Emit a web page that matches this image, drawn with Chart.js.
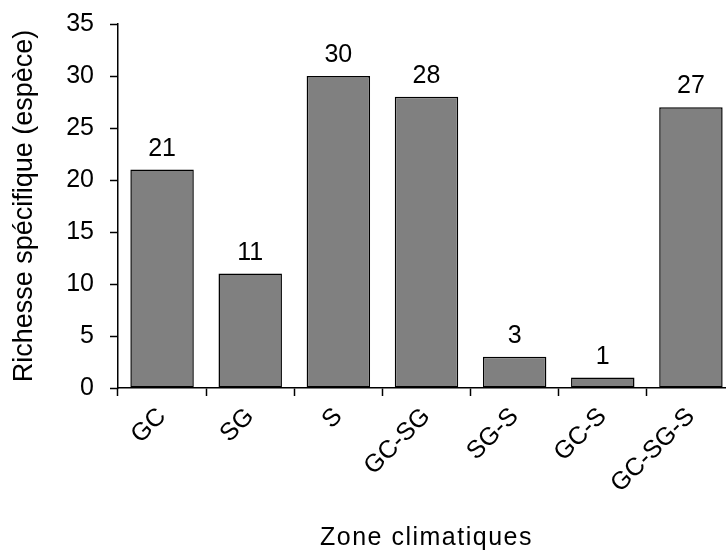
<!DOCTYPE html>
<html lang="fr">
<head>
  <meta charset="UTF-8" />
  <title>Richesse spécifique par zone climatique</title>
  <script src="https://cdn.jsdelivr.net/npm/chart.js@4"></script>
  <style>
    html, body { margin: 0; padding: 0; background: #fff; overflow: hidden; }
    #wrap { width: 736px; height: 554px; }
  </style>
</head>
<body>
  <div id="wrap"><canvas id="chart" width="736" height="554"></canvas></div>
  <script>
    // données
    const zones = ["GC", "SG", "S", "GC-SG", "SG-S", "GC-S", "GC-SG-S"];
    const richesse = [21, 11, 30, 28, 3, 1, 27];
    const yTicks = [0, 5, 10, 15, 20, 25, 30, 35];
    const xTitle = "Zone climatiques";

    const FONT = "'Liberation Sans', Arial, sans-serif";

    // étiquettes de valeur au-dessus des barres + titre de l'axe X (un peu espacé)
    const valueLabels = {
      id: "valueLabels",
      afterDatasetsDraw(chart) {
        const ctx = chart.ctx;
        const meta = chart.getDatasetMeta(0);
        ctx.save();
        ctx.font = "25px " + FONT;
        ctx.fillStyle = "#000";
        ctx.textAlign = "center";
        ctx.textBaseline = "alphabetic";
        meta.data.forEach((bar, i) => {
          ctx.fillText(String(richesse[i]), bar.x, bar.y - 14);
        });
        ctx.restore();
      },
      afterDraw(chart) {
        const ctx = chart.ctx;
        const area = chart.chartArea;
        ctx.save();
        ctx.font = "25px " + FONT;
        ctx.letterSpacing = "1.5px";
        ctx.fillStyle = "#000";
        ctx.textAlign = "center";
        ctx.textBaseline = "alphabetic";
        ctx.fillText(xTitle, (area.left + area.right) / 2, 545);
        ctx.restore();
      },
    };

    new Chart(document.getElementById("chart"), {
      type: "bar",
      data: {
        labels: zones,
        datasets: [
          {
            data: richesse,
            backgroundColor: "#808080",
            borderColor: "#000",
            borderWidth: 1.5,
            borderSkipped: false,
            barPercentage: 0.72,
            categoryPercentage: 1,
          },
        ],
      },
      options: {
        responsive: false,
        animation: false,
        devicePixelRatio: 1,
        layout: { padding: { top: 24, right: 1, bottom: 0, left: 0 } },
        plugins: {
          legend: { display: false },
          tooltip: { enabled: false },
        },
        scales: {
          x: {
            grid: {
              drawOnChartArea: false,
              drawTicks: true,
              tickLength: 8,
              tickColor: "#000",
              tickWidth: 1.5,
            },
            border: { display: true, color: "#000", width: 1.5 },
            ticks: {
              color: "#000",
              font: { family: FONT, size: 25 },
              minRotation: 45,
              maxRotation: 45,
              padding: 6,
            },
            title: { display: false },
            afterFit(scale) {
              scale.height = 166;
              scale.paddingLeft = 0;
              scale.paddingRight = 0;
            },
          },
          y: {
            min: 0,
            max: 35,
            grid: {
              drawOnChartArea: false,
              drawTicks: true,
              tickLength: 8,
              tickColor: "#000",
              tickWidth: 1.5,
            },
            border: { display: true, color: "#000", width: 1.5 },
            afterBuildTicks(scale) {
              scale.ticks = yTicks.map((v) => ({ value: v }));
            },
            ticks: {
              color: "#000",
              font: { family: FONT, size: 25 },
              padding: 16,
            },
            title: {
              display: true,
              text: "Richesse spécifique (espèce)",
              color: "#000",
              font: { family: FONT, size: 27 },
              padding: { top: 8, bottom: 0 },
            },
            afterFit(scale) {
              scale.width = 118;
              scale.paddingTop = 0;
              scale.paddingBottom = 0;
            },
          },
        },
      },
      plugins: [valueLabels],
    });
  </script>
</body>
</html>
